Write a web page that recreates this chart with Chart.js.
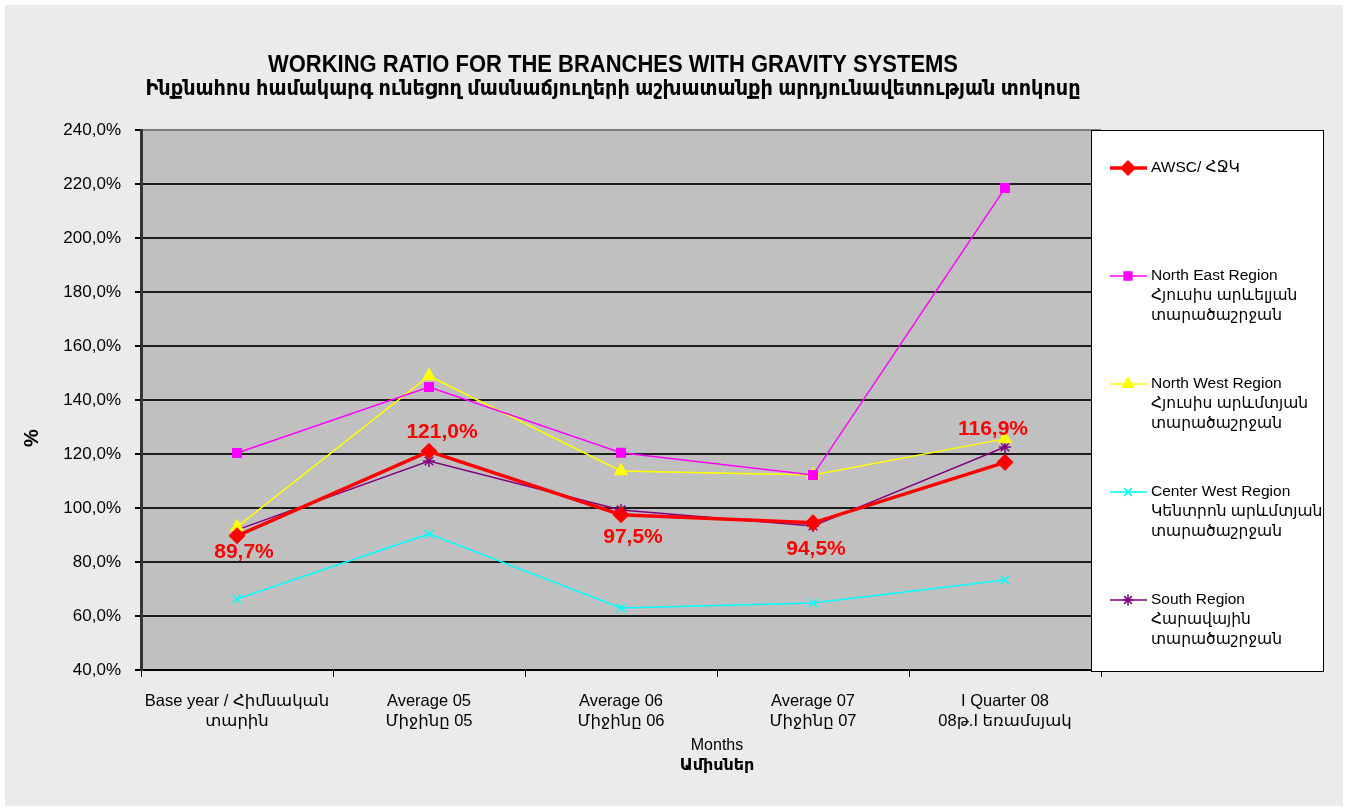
<!DOCTYPE html>
<html>
<head>
<meta charset="utf-8">
<script src="https://cdn.jsdelivr.net/npm/chart.js@4/dist/chart.umd.min.js"></script>
<style>
    html, body { margin: 0; padding: 0; background: #fff; }
</style>
</head>
<body>
<canvas id="chart" width="1348" height="811"></canvas>
<script>
// categories (two-line tick labels)
const categories = [
    ["Base year / Հիմնական", "տարին"],
    ["Average 05", "Միջինը 05"],
    ["Average 06", "Միջինը 06"],
    ["Average 07", "Միջինը 07"],
    ["I Quarter 08", "08թ.I եռամսյակ"],
];

// series values, %
const awsc = [89.7, 121.0, 97.5, 94.5, 116.9];
const northEast = [120.4, 144.8, 120.5, 112.2, 218.5];
const northWest = [93.0, 148.9, 113.7, 112.2, 125.6];
const centerWest = [66.3, 90.4, 63.0, 64.8, 73.3];
const south = [91.9, 117.4, 99.3, 93.3, 122.6];

const legendNames = [
    ["AWSC/ ՀՋԿ"],
    ["North East Region", "Հյուսիս արևելյան", "տարածաշրջան"],
    ["North West Region", "Հյուսիս արևմտյան", "տարածաշրջան"],
    ["Center West Region", "Կենտրոն արևմտյան", "տարածաշրջան"],
    ["South Region", "Հարավային", "տարածաշրջան"],
];

const yMin = 40;
const yMax = 240;
const yStep = 20;

// where the AWSC value labels sit relative to their point (dx, dy)
const labelOffsets = [[7, 16], [13, -19], [12, 22], [3, 26], [-12, -33]];

const FONT = "'Liberation Sans', Arial, 'DejaVu Sans', sans-serif";

const fmt = (v) => v.toFixed(1).replace(".", ",") + "%";

// fits a line of text to a given width by squeezing it horizontally
const drawSqueezed = (ctx, text, cx, cy, width) => {
    const w = ctx.measureText(text).width;
    const sx = Math.min(1, width / w);
    ctx.save();
    ctx.translate(cx, cy);
    ctx.scale(sx, 1);
    ctx.fillText(text, 0, 0);
    ctx.restore();
};

const backdrop = {
    id: "backdrop",
    beforeDraw: (chart) => {
        const ctx = chart.ctx;
        const a = chart.chartArea;
        ctx.save();
        ctx.fillStyle = "#ffffff";
        ctx.fillRect(0, 0, chart.width, chart.height);
        ctx.fillStyle = "#ebebeb";
        ctx.fillRect(5, 5, chart.width - 10, chart.height - 10);
        ctx.fillStyle = "#c0c0c0";
        ctx.fillRect(a.left, a.top, a.right - a.left, a.bottom - a.top);
        ctx.restore();
    },
};

const texts = {
    id: "texts",
    afterDraw: (chart) => {
        const ctx = chart.ctx;
        ctx.save();
        ctx.fillStyle = "#000";
        ctx.textAlign = "center";
        ctx.textBaseline = "middle";

        ctx.font = "bold 23px " + FONT;
        drawSqueezed(ctx, "WORKING RATIO FOR THE BRANCHES WITH GRAVITY SYSTEMS", 613, 66, 690);
        ctx.font = "bold 21px " + FONT;
        drawSqueezed(ctx, "Ինքնահոս համակարգ ունեցող մասնաճյուղերի աշխատանքի արդյունավետության տոկոսը", 613, 89, 935);

        ctx.font = "16px " + FONT;
        ctx.fillText("Months", 717, 746);
        ctx.font = "bold 16px " + FONT;
        ctx.fillText("Ամիսներ", 717, 766);

        ctx.save();
        ctx.translate(32, 438);
        ctx.rotate(-Math.PI / 2);
        ctx.font = "bold 20px " + FONT;
        ctx.fillText("%", 0, 0);
        ctx.restore();

        // value labels for AWSC
        const meta = chart.getDatasetMeta(0);
        ctx.fillStyle = "#ff0000";
        ctx.font = "bold 21px " + FONT;
        meta.data.forEach((pt, i) => {
            const off = labelOffsets[i];
            ctx.fillText(fmt(awsc[i]), pt.x + off[0], pt.y + off[1]);
        });

        // legend box
        const lx = 1091, ly = 130, lw = 232, lh = 541;
        ctx.fillStyle = "#fff";
        ctx.fillRect(lx, ly, lw, lh);
        ctx.strokeStyle = "#000";
        ctx.lineWidth = 1;
        ctx.strokeRect(lx + 0.5, ly + 0.5, lw, lh);

        ctx.textAlign = "left";
        ctx.font = "15.5px " + FONT;
        chart.data.datasets.forEach((ds, i) => {
            const y = 168 + i * 108;
            ctx.strokeStyle = ds.borderColor;
            ctx.lineWidth = ds.borderWidth;
            ctx.beginPath();
            ctx.moveTo(1110, y);
            ctx.lineTo(1147, y);
            ctx.stroke();
            ctx.fillStyle = ds.pointBackgroundColor;
            ctx.strokeStyle = ds.borderColor;
            ctx.lineWidth = ds.pointBorderWidth;
            Chart.helpers.drawPoint(ctx, {
                pointStyle: ds.pointStyle,
                radius: ds.pointRadius - 0.5,
                borderWidth: ds.pointBorderWidth,
                rotation: 0,
            }, 1128, y);
            ctx.fillStyle = "#000";
            legendNames[i].forEach((line, j) => {
                ctx.fillText(line, 1151, y + j * 20);
            });
        });
        ctx.restore();
    },
};

const series = (data, color, width, style, radius) => ({
    data: data,
    borderColor: color,
    backgroundColor: color,
    pointBackgroundColor: color,
    pointBorderColor: color,
    borderWidth: width,
    pointStyle: style,
    pointRadius: radius,
    pointBorderWidth: 1.5,
    tension: 0,
});

new Chart(document.getElementById("chart"), {
    type: "line",
    data: {
        labels: categories,
        datasets: [
            series(awsc, "#ff0000", 3.5, "rectRot", 7.5),
            series(northEast, "#ff00ff", 1.5, "rect", 6),
            series(northWest, "#ffff00", 1.5, "triangle", 7),
            series(centerWest, "#00ffff", 1.5, "crossRot", 6),
            series(south, "#800080", 1.5, "star", 6),
        ],
    },
    options: {
        responsive: false,
        animation: false,
        devicePixelRatio: 1,
        layout: {
            padding: { top: 130, right: 247, left: 0, bottom: 0 },
        },
        plugins: {
            legend: { display: false },
            tooltip: { enabled: false },
        },
        scales: {
            x: {
                offset: true,
                afterFit: (scale) => { scale.height = 141; },
                grid: {
                    offset: true,
                    drawOnChartArea: false,
                    tickLength: 7,
                    color: "#000",
                },
                border: { color: "#000", width: 2 },
                ticks: {
                    color: "#000",
                    font: { family: FONT, size: 16.5 },
                    padding: 15,
                    maxRotation: 0,
                    autoSkip: false,
                },
            },
            y: {
                min: yMin,
                max: yMax,
                afterFit: (scale) => { scale.width = 141; },
                grid: {
                    color: (c) => (c.tick && c.tick.value === yMax ? "#808080" : "#1e1e1e"),
                    lineWidth: 2,
                    tickLength: 6,
                    tickColor: "#000",
                },
                border: { color: "#333", width: 3 },
                ticks: {
                    stepSize: yStep,
                    color: "#000",
                    font: { family: FONT, size: 17 },
                    padding: 14,
                    callback: (v) => fmt(v),
                },
            },
        },
    },
    plugins: [backdrop, texts],
});
</script>
</body>
</html>
